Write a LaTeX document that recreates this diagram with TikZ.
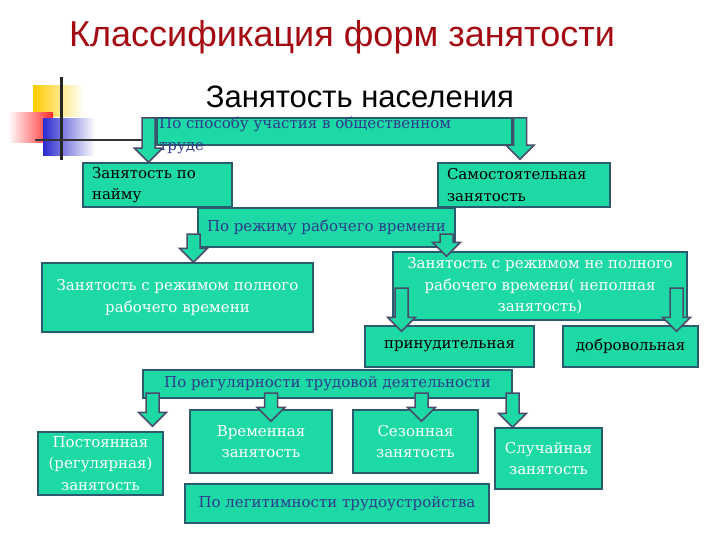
\documentclass[tikz,border=0pt]{standalone}
\usepackage{fontspec}
\setmainfont{DejaVu Serif}
\newfontfamily\headfont{Liberation Sans}
\usetikzlibrary{positioning,calc}
\definecolor{cfill}{HTML}{1CD9A6}
\definecolor{cedge}{HTML}{2D5B6E}
\definecolor{carr}{HTML}{4C4A6B}
\definecolor{ctxt}{HTML}{2E3C8C}
\definecolor{ctitle}{HTML}{A30A12}
\definecolor{cyel}{HTML}{FFCC00}
\definecolor{cred}{HTML}{FF2A2A}
\definecolor{cblue}{HTML}{2B2BD0}
\tikzset{
  tile/.style={rectangle, draw=cedge, fill=cfill, line width=1.5pt, inner sep=0pt,
               align=center, font=\fontsize{15}{21.5}\selectfont},
  cat/.style={tile, text=ctxt},
  dark/.style={tile, text=black},
  light/.style={tile, text=white},
  blk/.style={draw=carr, fill=cfill, line width=1.5pt, line join=miter,
    to path={let \p1=(\tikztostart), \p2=(\tikztotarget) in
      (\x1-6.5pt,\y1) -- (\x1+6.5pt,\y1) -- (\x1+6.5pt,\y2+14pt) -- (\x1+14pt,\y2+14pt)
      -- (\x1,\y2) -- (\x1-14pt,\y2+14pt) -- (\x1-6.5pt,\y2+14pt) -- cycle}}
}
\begin{document}
\begin{tikzpicture}[x=1pt,y=-1pt]
\useasboundingbox (0,0) rectangle (720,540);
% corner decoration
\shade[left color=cyel, right color=white] (33,86) rectangle (84,117);
\shade[left color=white, right color=cred] (8,113) rectangle (53,143);
\shade[left color=cblue, right color=white] (43,119) rectangle (95,156);
\draw[line width=3pt, black!85] (61,77) -- (61,160);
\draw[line width=2.5pt, black!80] (35,140) -- (143,140);
% titles
\node[anchor=base, font=\headfont\fontsize{36}{40}\selectfont, text=ctitle] (title) at (342,47) {Классификация форм занятости};
\node[anchor=base, font=\headfont\fontsize{31}{34}\selectfont] (sub) at (360,108) {Занятость населения};
% boxes
\node[cat, minimum width=355, minimum height=27] (sp) at (334.5,131.5) {};
\node[anchor=north west, inner sep=0pt, align=left, text=ctxt, font=\fontsize{15}{21.5}\selectfont] (sptxt) at (159,117) {По способу участия в общественном\\труде};
\node[dark, minimum width=149, minimum height=44, text width=131, align=left] (hire) at (157.5,185) {Занятость по\\найму};
\node[dark, minimum width=172, minimum height=44, text width=154, align=left] (self) at (524,185) {Самостоятельная\\занятость};
\node[cat, minimum width=257, minimum height=39] (mode) at (326.5,227.5) {По режиму рабочего времени};
\node[light, minimum width=271, minimum height=69] (full) at (177.5,297.5) {Занятость с режимом полного\\рабочего времени};
\node[light, minimum width=294, minimum height=68] (part) at (540,286) {Занятость с режимом не полного\\рабочего времени( неполная\\занятость)};
\node[dark, minimum width=169, minimum height=41] (forced) at (449.5,346.5) {принудительная};
\node[dark, minimum width=135, minimum height=41] (vol) at (630.5,346.5) {добровольная};
\node[cat, minimum width=369, minimum height=28] (reg) at (327.5,384) {По регулярности трудовой деятельности};
\node[light, minimum width=125, minimum height=63] (perm) at (100.5,463.5) {Постоянная\\(регулярная)\\занятость};
\node[light, minimum width=142, minimum height=63] (temp) at (261,441.5) {Временная\\занятость};
\node[light, minimum width=125, minimum height=63] (seas) at (415.5,441.5) {Сезонная\\занятость};
\node[light, minimum width=107, minimum height=61] (casual) at (548.5,458.5) {Случайная\\занятость};
\node[cat, minimum width=304, minimum height=39] (legit) at (337,503.5) {По легитимности трудоустройства};
% arrows
\coordinate (s1) at (148.5,118);
\coordinate (s2) at (520,118);
\coordinate (s3) at (193.5,234);
\coordinate (s4) at (446.5,234);
\coordinate (s5) at (401.5,288);
\coordinate (s6) at (676.5,288);
\coordinate (s7) at (152.5,393);
\coordinate (s8) at (271,393);
\coordinate (s9) at (421.5,393);
\coordinate (s10) at (512.5,393);
\draw[blk] (s1) to (s1 |- hire.north);
\draw[blk] (s2) to ([yshift=3pt]s2 |- self.north);
\draw[blk] (s3) to (s3 |- full.north);
\draw[blk] (s4) to ([yshift=-5pt]s4 |- part.north);
\draw[blk] (s5) to ([yshift=-6pt]s5 |- forced.north);
\draw[blk] (s6) to ([yshift=-6pt]s6 |- vol.north);
\draw[blk] (s7) to ([yshift=5pt]s7 |- perm.north);
\draw[blk] (s8) to ([yshift=-12pt]s8 |- temp.north);
\draw[blk] (s9) to ([yshift=-12pt]s9 |- seas.north);
\draw[blk] (s10) to (s10 |- casual.north);
\end{tikzpicture}
\end{document}
